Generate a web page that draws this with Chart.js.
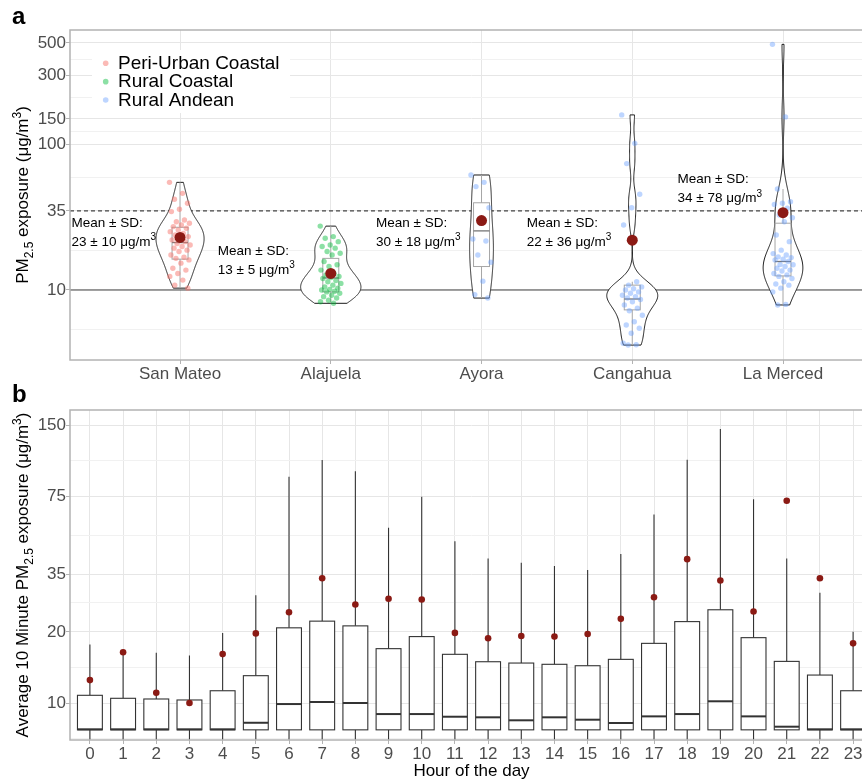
<!DOCTYPE html>
<html>
<head>
<meta charset="utf-8">
<script src="https://cdn.jsdelivr.net/npm/chart.js@4.4.0/dist/chart.umd.min.js"></script>
<style>
  html, body { margin: 0; padding: 0; background: #fff; overflow: hidden; width: 862px; height: 779px; }
  .panel { position: absolute; left: 0; }
</style>
</head>
<body>
<div class="panel" style="top:0"><canvas id="chartA" width="880" height="396"></canvas></div>
<div class="panel" style="top:380px"><canvas id="chartB" width="880" height="402"></canvas></div>
<script>
// ---- panel a : personal exposure by community ----
const sites = ['San Mateo', 'Alajuela', 'Ayora', 'Cangahua', 'La Merced'];
const siteGroup = [0, 1, 2, 2, 2];
const groups = ['Peri-Urban Coastal', 'Rural Coastal', 'Rural Andean'];

const sanMateo = [55, 46.2, 42.1, 39.5, 35.9, 34.6, 30.3, 29.5, 28.8, 28.0, 27.3, 26.6, 25.9, 25.2, 24.5, 23.9, 23.3, 22.6, 22.1, 21.5, 20.9, 20.4, 19.9, 19.4, 18.8, 18.4, 17.4, 16.8, 16.5, 16.1, 15.3, 14.1, 13.7, 13.0, 12.4, 11.7, 10.8, 10.3];
const alajuela = [27.5, 23.3, 22.7, 21.5, 20.4, 19.9, 19.4, 18.4, 17.9, 17.4, 15.7, 14.9, 14.5, 13.7, 13.0, 12.7, 12.4, 12.2, 12.0, 11.6, 11.4, 11.1, 10.8, 10.5, 10.3, 10.1, 10.0, 9.8, 9.7, 9.5, 9.2, 9.0, 8.8, 8.5, 8.3, 8.1];
const ayora = [61.8, 55, 51.4, 36.8, 28.7, 22.4, 21.7, 17.4, 15.5, 11.5, 9.3, 8.8];
const cangahua = [160, 102, 74, 45.5, 36.8, 28, 11.4, 10.8, 10.5, 10.2, 10, 9.7, 9.5, 9.2, 9, 8.8, 8.6, 8.3, 7.9, 7.5, 7.2, 6.7, 6.05, 5.75, 5.45, 5.04, 4.3, 4.2, 4.18];
const laMerced = [489, 155, 49.5, 40.5, 39.5, 38.8, 36.5, 32.8, 31.4, 29.5, 23.9, 21.5, 18.8, 17.8, 17.4, 16.9, 16.7, 16.3, 16.1, 15.7, 15.0, 14.9, 14.5, 14.1, 13.7, 13.5, 13.0, 12.7, 12.4, 12.0, 11.4, 11.0, 10.8, 10.3, 9.7, 7.96, 7.89];
const sitePoints = [sanMateo, alajuela, ayora, cangahua, laMerced];

const siteMean = [23, 13, 30, 22, 34];
const siteSD = [10, 5, 18, 36, 78];
const siteLo = [10.3, 8.1, 8.8, 4.18, 7.89];
const siteQ1 = [16.3, 9.7, 14.5, 7.3, 12.5];
const siteMed = [21.2, 12.1, 25.5, 8.67, 15.7];
const siteQ3 = [27, 16.5, 39.8, 10.8, 28.8];
const siteHi = [55, 27.5, 61.8, 11.4, 49.5];

const yMajorA = [10, 35, 100, 150, 300, 500];
const yMinorA = [5.35, 18.7, 59.2, 122.5, 212, 387];
const guideSolid = 10;
const guideDashed = 35;

// ---- panel b : 10-minute averages by hour ----
const hours = ['0', '1', '2', '3', '4', '5', '6', '7', '8', '9', '10', '11', '12', '13', '14', '15', '16', '17', '18', '19', '20', '21', '22', '23'];
const hourLo = [7, 7, 7, 7, 7, 7, 7, 7, 7, 7, 7, 7, 7, 7, 7, 7, 7, 7, 7, 7, 7, 7, 7, 7];
const hourQ1 = [7.7, 7.7, 7.7, 7.7, 7.7, 7.7, 7.7, 7.7, 7.7, 7.7, 7.7, 7.7, 7.7, 7.7, 7.7, 7.7, 7.7, 7.7, 7.7, 7.7, 7.7, 7.7, 7.7, 7.7];
const hourMed = [7.74, 7.74, 7.74, 7.74, 7.74, 8.25, 9.9, 10.1, 10.0, 8.98, 8.98, 8.75, 8.7, 8.45, 8.7, 8.5, 8.23, 8.78, 8.98, 10.17, 8.78, 7.94, 7.74, 7.74];
const hourQ3 = [10.78, 10.47, 10.4, 10.3, 11.27, 13.05, 20.8, 22.2, 21.2, 16.98, 19.1, 16.07, 14.95, 14.76, 14.58, 14.38, 15.3, 17.88, 22.1, 24.8, 18.9, 15.0, 13.13, 11.27];
const hourHi = [17.7, 16.5, 16.3, 15.9, 19.8, 28.6, 90.6, 106.6, 95.5, 55.2, 74.6, 48.4, 40.9, 39.2, 38, 36.5, 42.7, 62.8, 107, 144.2, 72.7, 40.9, 29.3, 20];
const hourMean = [12.5, 16.4, 11.05, 10.0, 16.1, 19.7, 24.2, 33.7, 26.1, 27.6, 27.4, 19.8, 18.8, 19.2, 19.1, 19.6, 22.7, 28.0, 40.6, 33.0, 24.4, 71.7, 33.7, 17.88];

const yMajorB = [10, 20, 35, 75, 150];
const yMinorB = [7.07, 14.1, 26.5, 51.2, 106];

// ---- styles ----
const FONT = "'Liberation Sans', Arial, Helvetica, sans-serif";
Chart.defaults.font.family = FONT;
Chart.defaults.color = '#4D4D4D';

const groupColors = ['rgba(248,118,109,0.5)', 'rgba(0,186,56,0.45)', 'rgba(97,156,255,0.42)'];
const meanColor = '#8B1A14';
const gridMajor = '#E6E6E6';
const gridMinor = '#F1F1F1';
const tickGrey = '#B3B3B3';

// small deterministic horizontal spread for the jittered points
const jitter = k => ((k * 0.6180339887) % 1 - 0.5) * 0.14;

// gaussian kernel density on log10 values, bw.nrd0 bandwidth, trimmed to data range
function kde(vals, n) {
  const y = vals.map(v => Math.log10(v)).sort((a, b) => a - b);
  const m = y.length;
  const mu = y.reduce((s, v) => s + v, 0) / m;
  const sd = Math.sqrt(y.reduce((s, v) => s + (v - mu) ** 2, 0) / (m - 1));
  const q = p => { const h = (m - 1) * p, lo = Math.floor(h); return y[lo] + (h - lo) * ((y[lo + 1] ?? y[lo]) - y[lo]); };
  const spread = Math.min(sd, (q(0.75) - q(0.25)) / 1.34) || sd;
  const bw = 0.9 * spread * Math.pow(m, -0.2);
  const out = [];
  for (let k = 0; k < n; k++) {
    const t = y[0] + (y[m - 1] - y[0]) * k / (n - 1);
    let d = 0;
    for (const v of y) d += Math.exp(-0.5 * ((t - v) / bw) ** 2);
    out.push([t, d / (m * bw * Math.sqrt(2 * Math.PI))]);
  }
  return out;
}

// text with sub (1) / superscript (2) pieces
function richText(ctx, parts, x, y, size, align, color) {
  const small = Math.round(size * 0.72);
  const widths = parts.map(([t, k]) => { ctx.font = (k ? small : size) + 'px ' + FONT; return ctx.measureText(t).width; });
  const total = widths.reduce((s, w) => s + w, 0);
  let cx = align === 'center' ? x - total / 2 : x;
  ctx.fillStyle = color;
  ctx.textAlign = 'left';
  ctx.textBaseline = 'alphabetic';
  parts.forEach(([t, k], i) => {
    ctx.font = (k ? small : size) + 'px ' + FONT;
    const dy = k === 1 ? size * 0.28 : k === 2 ? -size * 0.42 : 0;
    ctx.fillText(t, cx, y + dy);
    cx += widths[i];
  });
}

function yTitle(chart, parts) {
  const { ctx, chartArea: a } = chart;
  ctx.save();
  ctx.translate(28, (a.top + a.bottom) / 2);
  ctx.rotate(-Math.PI / 2);
  richText(ctx, parts, 0, 0, 17, 'center', '#000');
  ctx.restore();
}

function panelBorder(chart) {
  const { ctx, chartArea: a } = chart;
  ctx.save();
  ctx.strokeStyle = tickGrey;
  ctx.lineWidth = 1.5;
  ctx.strokeRect(a.left, a.top, a.right - a.left, a.bottom - a.top);
  ctx.restore();
}

function logAxis(min, max, major, minor) {
  return {
    type: 'logarithmic', min, max,
    afterBuildTicks: s => { s.ticks = major.concat(minor).map(v => ({ value: v })); },
    afterFit: s => { s.width = 58; },
    ticks: { callback: v => major.includes(v) ? String(v) : '', font: { size: 17 }, color: '#4D4D4D', padding: 0, autoSkip: false },
    grid: {
      color: c => major.includes(c.tick.value) ? gridMajor : gridMinor,
      tickColor: c => major.includes(c.tick.value) ? tickGrey : 'rgba(0,0,0,0)',
      tickLength: 4, lineWidth: 1
    },
    border: { display: false }
  };
}

function catAxis(min, max, labels, height, title) {
  return {
    type: 'linear', min, max,
    afterBuildTicks: s => { s.ticks = labels.map((_, i) => ({ value: i })); },
    afterFit: s => { s.height = height; },
    ticks: { callback: v => labels[v], font: { size: 17 }, color: '#4D4D4D', padding: 0, maxRotation: 0, autoSkip: false },
    grid: { color: gridMajor, tickColor: tickGrey, tickLength: 4, lineWidth: 1 },
    border: { display: false },
    title: title ? { display: true, text: title, color: '#000', font: { size: 17 }, padding: { top: 0, bottom: 0 } } : { display: false }
  };
}

const violinHalf = 0.2;
const boxHalfA = 0.053;
const labelDX = [-0.72, -0.75, -0.7, -0.7, -0.7];
const labelY = [25.2, 16.2, 25.3, 25.2, 50.3];

const panelA = {
  id: 'panelA',
  beforeDatasetsDraw(chart) {
    const { ctx, chartArea: a, scales: { x, y } } = chart;
    ctx.save();
    ctx.beginPath();
    ctx.rect(a.left, a.top, a.right - a.left, a.bottom - a.top);
    ctx.clip();

    // guideline values
    ctx.strokeStyle = '#444';
    ctx.lineWidth = 1.2;
    ctx.beginPath();
    ctx.moveTo(a.left, y.getPixelForValue(guideSolid));
    ctx.lineTo(a.right, y.getPixelForValue(guideSolid));
    ctx.stroke();
    ctx.setLineDash([4, 3]);
    ctx.beginPath();
    ctx.moveTo(a.left, y.getPixelForValue(guideDashed));
    ctx.lineTo(a.right, y.getPixelForValue(guideDashed));
    ctx.stroke();
    ctx.setLineDash([]);

    // violins
    const dens = sitePoints.map(p => kde(p, 256));
    const dmax = Math.max(...dens.map(d => Math.max(...d.map(p => p[1]))));
    dens.forEach((d, i) => {
      ctx.beginPath();
      d.forEach(([t, v], k) => {
        const px = x.getPixelForValue(i - violinHalf * v / dmax), py = y.getPixelForValue(Math.pow(10, t));
        k ? ctx.lineTo(px, py) : ctx.moveTo(px, py);
      });
      for (let k = d.length - 1; k >= 0; k--) {
        ctx.lineTo(x.getPixelForValue(i + violinHalf * d[k][1] / dmax), y.getPixelForValue(Math.pow(10, d[k][0])));
      }
      ctx.closePath();
      ctx.fillStyle = '#fff';
      ctx.fill();
      ctx.strokeStyle = '#1A1A1A';
      ctx.lineWidth = 1;
      ctx.stroke();
    });

    // boxplots
    sites.forEach((_, i) => {
      const xc = x.getPixelForValue(i), xl = x.getPixelForValue(i - boxHalfA), xr = x.getPixelForValue(i + boxHalfA);
      const yq1 = y.getPixelForValue(siteQ1[i]), yq3 = y.getPixelForValue(siteQ3[i]);
      ctx.strokeStyle = '#A6A6A6';
      ctx.lineWidth = 1;
      ctx.beginPath();
      ctx.moveTo(xc, y.getPixelForValue(siteLo[i])); ctx.lineTo(xc, yq1);
      ctx.moveTo(xc, yq3); ctx.lineTo(xc, y.getPixelForValue(siteHi[i]));
      ctx.stroke();
      ctx.strokeRect(xl, yq3, xr - xl, yq1 - yq3);
      ctx.strokeStyle = '#777';
      ctx.lineWidth = 1.3;
      ctx.beginPath();
      ctx.moveTo(xl, y.getPixelForValue(siteMed[i])); ctx.lineTo(xr, y.getPixelForValue(siteMed[i]));
      ctx.stroke();
    });
    ctx.restore();
  },
  afterDatasetsDraw(chart) {
    const { ctx, chartArea: a, scales: { x, y } } = chart;
    ctx.save();
    // mean +- sd labels
    sites.forEach((_, i) => {
      const px = x.getPixelForValue(i + labelDX[i]);
      const pc = y.getPixelForValue(labelY[i]);
      richText(ctx, [['Mean ± SD:', 0]], px, pc - 9.5 + 4.8, 13.5, 'left', '#000');
      richText(ctx, [[siteMean[i] + ' ± ' + siteSD[i] + ' μg/m', 0], ['3', 2]], px, pc + 9.5 + 4.8, 13.5, 'left', '#000');
    });
    // legend
    ctx.fillStyle = '#fff';
    ctx.fillRect(a.left + 22, a.top + 20, 198, 63);
    groups.forEach((g, gi) => {
      const cy = a.top + 33.3 + gi * 18.35;
      ctx.beginPath();
      ctx.arc(a.left + 35.7, cy, 2.8, 0, 2 * Math.PI);
      ctx.fillStyle = groupColors[gi];
      ctx.fill();
      ctx.fillStyle = '#000';
      ctx.font = '19px ' + FONT;
      ctx.textAlign = 'left';
      ctx.textBaseline = 'middle';
      ctx.fillText(g, a.left + 48, cy + 0.5);
    });
    ctx.restore();
    panelBorder(chart);
  },
  afterDraw(chart) {
    yTitle(chart, [['PM', 0], ['2.5', 1], [' exposure (μg/m', 0], ['3', 2], [')', 0]]);
  }
};

const jitterSets = groups.map((g, gi) => ({
  label: g,
  data: sitePoints.flatMap((pts, si) => siteGroup[si] === gi ? pts.map((v, k) => ({ x: si + jitter(k), y: v })) : []),
  backgroundColor: groupColors[gi],
  borderWidth: 0,
  pointRadius: 2.7,
  order: 2
}));

new Chart(document.getElementById('chartA'), {
  type: 'scatter',
  data: {
    datasets: [{
      label: 'Mean',
      data: siteMean.map((m, i) => ({ x: i, y: m })),
      backgroundColor: meanColor,
      borderWidth: 0,
      pointRadius: 5.5,
      order: 1
    }, ...jitterSets]
  },
  options: {
    responsive: false,
    animation: false,
    devicePixelRatio: 1,
    events: [],
    layout: { padding: { left: 12, right: 7, top: 0, bottom: 0 } },
    plugins: {
      legend: { display: false },
      tooltip: { enabled: false },
      title: { display: true, text: 'a', align: 'start', color: '#000', font: { size: 24, weight: 'bold', lineHeight: 1 }, padding: { top: 5, bottom: 1 } }
    },
    scales: {
      x: catAxis(-0.73, 4.597, sites, 36),
      y: logAxis(3.3, 614, yMajorA, yMinorA)
    }
  },
  plugins: [panelA]
});

const boxHalfB = 0.375;
const panelB = {
  id: 'panelB',
  beforeDatasetsDraw(chart) {
    const { ctx, chartArea: a, scales: { x, y } } = chart;
    ctx.save();
    ctx.beginPath();
    ctx.rect(a.left, a.top, a.right - a.left, a.bottom - a.top);
    ctx.clip();
    hours.forEach((_, i) => {
      const xc = x.getPixelForValue(i), xl = x.getPixelForValue(i - boxHalfB), xr = x.getPixelForValue(i + boxHalfB);
      const yq1 = y.getPixelForValue(hourQ1[i]), yq3 = y.getPixelForValue(hourQ3[i]);
      ctx.strokeStyle = '#333';
      ctx.lineWidth = 1.1;
      ctx.beginPath();
      ctx.moveTo(xc, y.getPixelForValue(hourLo[i])); ctx.lineTo(xc, yq1);
      ctx.moveTo(xc, yq3); ctx.lineTo(xc, y.getPixelForValue(hourHi[i]));
      ctx.stroke();
      ctx.fillStyle = '#fff';
      ctx.fillRect(xl, yq3, xr - xl, yq1 - yq3);
      ctx.strokeRect(xl, yq3, xr - xl, yq1 - yq3);
      ctx.lineWidth = 2;
      ctx.beginPath();
      ctx.moveTo(xl, y.getPixelForValue(hourMed[i])); ctx.lineTo(xr, y.getPixelForValue(hourMed[i]));
      ctx.stroke();
    });
    ctx.restore();
  },
  afterDatasetsDraw(chart) { panelBorder(chart); },
  afterDraw(chart) {
    yTitle(chart, [['Average 10 Minute PM', 0], ['2.5', 1], [' exposure (μg/m', 0], ['3', 2], [')', 0]]);
  }
};

new Chart(document.getElementById('chartB'), {
  type: 'scatter',
  data: {
    datasets: [{
      label: 'Mean',
      data: hourMean.map((m, i) => ({ x: i, y: m })),
      backgroundColor: meanColor,
      borderWidth: 0,
      pointRadius: 3.3
    }]
  },
  options: {
    responsive: false,
    animation: false,
    devicePixelRatio: 1,
    events: [],
    layout: { padding: { left: 12, right: 7, top: 0, bottom: 0 } },
    plugins: {
      legend: { display: false },
      tooltip: { enabled: false },
      title: { display: true, text: 'b', align: 'start', color: '#000', font: { size: 24, weight: 'bold', lineHeight: 1 }, padding: { top: 3, bottom: 3 } }
    },
    scales: {
      x: catAxis(-0.6, 23.6, hours, 42, 'Hour of the day'),
      y: logAxis(6.975, 173.6, yMajorB, yMinorB)
    }
  },
  plugins: [panelB]
});
</script>
</body>
</html>
